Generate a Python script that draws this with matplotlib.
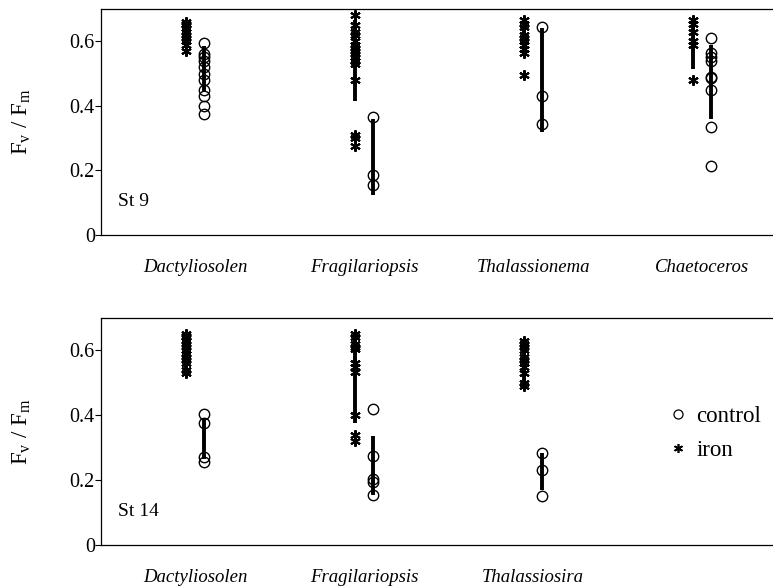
import matplotlib
matplotlib.use("Agg")
import matplotlib.pyplot as plt
from matplotlib.lines import Line2D

plt.rcParams['font.family'] = ['Liberation Serif', 'DejaVu Serif']
plt.rcParams['mathtext.fontset'] = 'custom'
plt.rcParams['mathtext.rm'] = 'Liberation Serif'

# ---- Station 9 ----
st9_taxa = ["Dactyliosolen", "Fragilariopsis", "Thalassionema", "Chaetoceros"]
st9_iron = [
    [0.66, 0.655, 0.65, 0.64, 0.63, 0.62, 0.61, 0.60, 0.59, 0.57],
    [0.68, 0.65, 0.63, 0.62, 0.60, 0.59, 0.58, 0.57, 0.56, 0.55, 0.54, 0.54, 0.53, 0.48, 0.31, 0.30, 0.275],
    [0.665, 0.655, 0.645, 0.62, 0.61, 0.60, 0.59, 0.575, 0.565, 0.495],
    [0.665, 0.655, 0.63, 0.60, 0.59, 0.48],
]
st9_control = [
    [0.595, 0.56, 0.55, 0.54, 0.52, 0.50, 0.48, 0.45, 0.43, 0.40, 0.375],
    [0.365, 0.185, 0.155],
    [0.645, 0.43, 0.345],
    [0.61, 0.565, 0.55, 0.54, 0.49, 0.485, 0.45, 0.335, 0.215],
]
st9_iron_bar = [(0.59, 0.66), (0.415, 0.665), (0.57, 0.665), (0.515, 0.66)]
st9_control_bar = [(0.445, 0.585), (0.125, 0.36), (0.32, 0.64), (0.36, 0.59)]

# ---- Station 14 ----
st14_taxa = ["Dactyliosolen", "Fragilariopsis", "Thalassiosira"]
st14_iron = [
    [0.65, 0.645, 0.64, 0.63, 0.62, 0.61, 0.60, 0.59, 0.58, 0.57, 0.56, 0.54, 0.53],
    [0.65, 0.64, 0.62, 0.61, 0.605, 0.56, 0.55, 0.535, 0.40, 0.34, 0.32],
    [0.63, 0.62, 0.61, 0.60, 0.58, 0.57, 0.56, 0.55, 0.53, 0.50, 0.49],
]
st14_control = [
    [0.405, 0.375, 0.27, 0.255],
    [0.42, 0.275, 0.205, 0.195, 0.155],
    [0.285, 0.23, 0.15],
]
st14_iron_bar = [(0.54, 0.64), (0.375, 0.645), (0.49, 0.63)]
st14_control_bar = [(0.265, 0.385), (0.155, 0.335), (0.17, 0.285)]

y_ticks = [0, 0.2, 0.4, 0.6]
y_ticklabels = ["0", "0.2", "0.4", "0.6"]

fig = plt.figure(figsize=(7.73, 5.88), dpi=100)
ax1 = fig.add_axes([0.1307, 0.6003, 0.8693, 0.3844])
ax2 = fig.add_axes([0.1307, 0.0731, 0.8693, 0.3861])

asterisk = (6, 2, 0)
off_iron, off_ctrl = -0.055, 0.05


def draw_panel(ax, taxa, iron, control, iron_bar, control_bar, station):
    for i, name in enumerate(taxa):
        pos = i + 1
        lo, hi = iron_bar[i]
        ax.plot([pos + off_iron] * 2, [lo, hi], color="black", lw=2.8,
                solid_capstyle="butt", zorder=2)
        ax.plot([pos + off_iron] * len(iron[i]), iron[i], linestyle="none",
                marker=asterisk, markersize=7.5, markeredgewidth=1.5,
                color="black", zorder=3)
        lo, hi = control_bar[i]
        ax.plot([pos + off_ctrl] * 2, [lo, hi], color="black", lw=2.8,
                solid_capstyle="butt", zorder=2)
        ax.plot([pos + off_ctrl] * len(control[i]), control[i], linestyle="none",
                marker="o", markersize=7.5, markerfacecolor="none",
                markeredgecolor="black", markeredgewidth=1.0, zorder=3)
    ax.set_xlim(0.44, 4.42)
    ax.set_ylim(0, 0.70)
    ax.set_xticks(range(1, len(taxa) + 1))
    ax.set_xticklabels(taxa, style="italic", fontsize=13.5)
    ax.tick_params(axis="x", length=0, pad=17)
    ax.set_yticks(y_ticks)
    ax.set_yticklabels(y_ticklabels, fontsize=14.5)
    ax.tick_params(axis="y", direction="out", length=4, width=0.8, pad=0.5)
    ax.spines["right"].set_visible(False)
    for s in ("left", "top", "bottom"):
        ax.spines[s].set_linewidth(0.9)
    ax.set_ylabel(r"F$_\mathregular{v}$ / F$_\mathregular{m}$", fontsize=16.5,
                  labelpad=26)
    ax.text(0.025, 0.11, station, transform=ax.transAxes, fontsize=14,
            ha="left", va="bottom")


draw_panel(ax1, st9_taxa, st9_iron, st9_control, st9_iron_bar,
           st9_control_bar, "St 9")
draw_panel(ax2, st14_taxa, st14_iron, st14_control, st14_iron_bar,
           st14_control_bar, "St 14")

handles = [
    Line2D([], [], linestyle="none", marker="o", markersize=6.5,
           markerfacecolor="none", markeredgecolor="black",
           markeredgewidth=0.9, label="control"),
    Line2D([], [], linestyle="none", marker=asterisk, markersize=6.5,
           markeredgewidth=1.2, color="black", label="iron"),
]
ax2.legend(handles=handles, loc="center left", bbox_to_anchor=(0.835, 0.49),
           frameon=False, fontsize=16.5, handlelength=0.6, handletextpad=0.5,
           labelspacing=0.55, borderaxespad=0)

fig.savefig("out.png", dpi=100)
